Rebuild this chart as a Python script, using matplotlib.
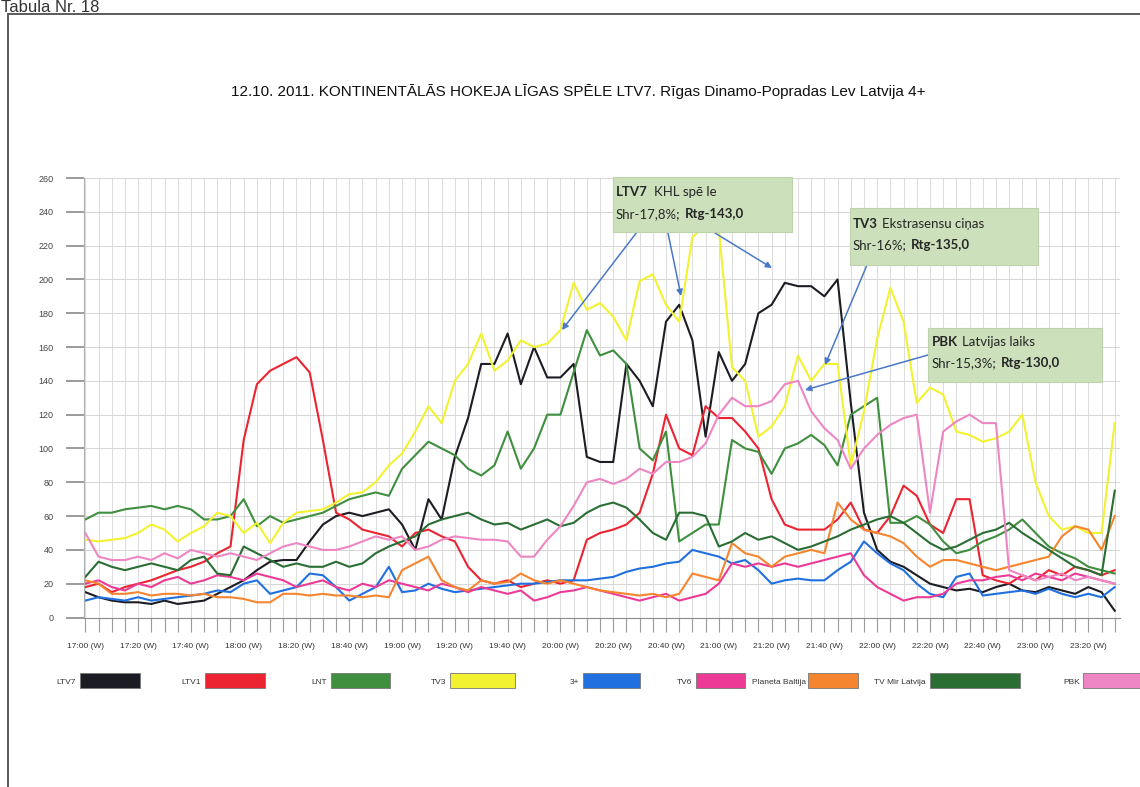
import matplotlib
matplotlib.use("Agg")
import matplotlib.pyplot as plt
from matplotlib import font_manager
from matplotlib.patches import Rectangle
import numpy as np

W, H = 1140, 787

# ---- data: 5-minute points from 17:00 (t=0) to 23:30 ----
STEP = 5
TICK_LABELS = ["17:00 (W)", "17:20 (W)", "17:40 (W)", "18:00 (W)", "18:20 (W)",
               "18:40 (W)", "19:00 (W)", "19:20 (W)", "19:40 (W)", "20:00 (W)",
               "20:20 (W)", "20:40 (W)", "21:00 (W)", "21:20 (W)", "21:40 (W)",
               "22:00 (W)", "22:20 (W)", "22:40 (W)", "23:00 (W)", "23:20 (W)"]

ltv7 = [15, 12, 10, 9, 9, 8, 10, 8, 9, 10,
        14, 18, 22, 28, 33, 34, 34, 45, 55, 60,
        62, 60, 62, 64, 55, 40, 70, 58, 95, 118,
        150, 150, 168, 138, 160, 142, 142, 150, 95, 92,
        92, 150, 140, 125, 175, 185, 164, 107, 157, 140,
        150, 180, 185, 198, 196, 196, 190, 200, 127, 62,
        40, 33, 30, 25, 20, 18, 16, 17, 15, 18,
        20, 16, 15, 18, 16, 14, 18, 15, 4]
ltv1 = [18, 20, 15, 18, 20, 22, 25, 28, 30, 33,
        38, 42, 105, 138, 146, 150, 154, 145, 105, 62,
        58, 52, 50, 48, 42, 50, 52, 48, 45, 30,
        22, 20, 22, 18, 20, 22, 20, 22, 46, 50,
        52, 55, 62, 85, 120, 100, 96, 125, 118, 118,
        110, 100, 70, 55, 52, 52, 52, 58, 68, 52,
        50, 60, 78, 72, 55, 50, 70, 70, 25, 22,
        20, 25, 22, 28, 25, 30, 28, 25, 28]
lnt = [58, 62, 62, 64, 65, 66, 64, 66, 64, 58,
       58, 60, 70, 54, 60, 56, 58, 60, 62, 66,
       70, 72, 74, 72, 88, 96, 104, 100, 96, 88,
       84, 90, 110, 88, 100, 120, 120, 145, 170, 155,
       158, 150, 100, 93, 110, 45, 50, 55, 55, 105,
       100, 98, 85, 100, 103, 108, 102, 90, 120, 125,
       130, 56, 56, 60, 55, 45, 38, 40, 45, 48,
       52, 58, 50, 42, 38, 35, 30, 28, 26]
tv3 = [46, 45, 46, 47, 50, 55, 52, 45, 50, 54,
       62, 60, 50, 56, 44, 56, 62, 63, 64, 68,
       73, 74, 80, 90, 97, 110, 125, 115, 140, 150,
       168, 146, 152, 164, 160, 162, 170, 198, 182, 186,
       178, 164, 199, 203, 185, 175, 225, 232, 230, 148,
       140, 107, 113, 125, 155, 140, 150, 150, 90, 122,
       165, 195, 175, 127, 136, 132, 110, 108, 104, 106,
       110, 120, 80, 60, 52, 54, 50, 50, 115]
tv3plus = [10, 12, 11, 10, 12, 10, 11, 12, 13, 14,
           16, 15, 20, 22, 14, 16, 18, 26, 25, 18,
           10, 14, 18, 30, 15, 16, 20, 17, 15, 16,
           17, 18, 19, 20, 20, 21, 22, 22, 22, 23,
           24, 27, 29, 30, 32, 33, 40, 38, 36, 32,
           34, 28, 20, 22, 23, 22, 22, 28, 33, 45,
           38, 32, 28, 20, 14, 12, 24, 26, 13, 14,
           15, 16, 14, 17, 14, 12, 14, 12, 18]
tv6 = [20, 22, 18, 16, 20, 18, 22, 24, 20, 22,
       25, 24, 22, 26, 24, 22, 18, 20, 22, 18,
       16, 20, 18, 22, 20, 18, 16, 20, 18, 15,
       18, 16, 14, 16, 10, 12, 15, 16, 18, 16,
       14, 12, 10, 12, 14, 10, 12, 14, 20, 32,
       30, 32, 30, 32, 30, 32, 34, 36, 38, 25,
       18, 14, 10, 12, 12, 14, 20, 22, 22, 24,
       25, 22, 26, 24, 22, 26, 24, 22, 20]
planeta = [22, 20, 14, 14, 15, 13, 14, 14, 13, 14,
           12, 12, 11, 9, 9, 14, 14, 13, 14, 13,
           13, 12, 13, 12, 28, 32, 36, 22, 18, 16,
           22, 20, 21, 26, 22, 20, 22, 20, 18, 16,
           15, 14, 13, 14, 12, 14, 26, 24, 22, 44,
           38, 36, 30, 36, 38, 40, 38, 68, 58, 52,
           50, 48, 44, 36, 30, 34, 34, 32, 30, 28,
           30, 32, 34, 36, 48, 54, 52, 40, 60]
mir = [24, 33, 30, 28, 30, 32, 30, 28, 34, 36,
       26, 25, 42, 38, 34, 30, 32, 30, 30, 33,
       30, 32, 38, 42, 45, 48, 55, 58, 60, 62,
       58, 55, 56, 52, 55, 58, 54, 56, 62, 66,
       68, 65, 58, 50, 46, 62, 62, 60, 42, 45,
       50, 46, 48, 44, 40, 42, 45, 48, 52, 55,
       58, 60, 56, 50, 44, 40, 42, 46, 50, 52,
       56, 50, 45, 40, 35, 30, 28, 25, 75]
pbk = [50, 36, 34, 34, 36, 34, 38, 35, 40, 38,
       36, 38, 36, 34, 38, 42, 44, 42, 40, 40,
       42, 45, 48, 46, 48, 40, 42, 46, 48, 47,
       46, 46, 45, 36, 36, 46, 54, 66, 80, 82,
       79, 82, 88, 85, 92, 92, 95, 103, 120, 130,
       125, 125, 128, 138, 140, 122, 112, 105, 88, 100,
       108, 114, 118, 120, 62, 110, 116, 120, 115, 115,
       28, 25, 22, 24, 26, 22, 24, 22, 20]

series = [
    ("LTV7", ltv7, "#1c1c24"),
    ("LTV1", ltv1, "#ec2432"),
    ("LNT", lnt, "#3f8f3f"),
    ("TV3", tv3, "#f2f230"),
    ("3+", tv3plus, "#2070e0"),
    ("TV6", tv6, "#ec3a96"),
    ("Planeta Baltija", planeta, "#f5852e"),
    ("TV Mir Latvija", mir, "#2a6e34"),
    ("PBK", pbk, "#ee86c4"),
]

_names = {f.name for f in font_manager.fontManager.ttflist}
NARROW = "Liberation Sans Narrow" if "Liberation Sans Narrow" in _names else "Liberation Sans"
BOXFONT = "Lato" if "Lato" in _names else "DejaVu Sans"

fig = plt.figure(figsize=(W / 100, H / 100), dpi=100)
fig.patch.set_facecolor("white")


def fx(x):
    return x / W


def fy(y):
    return 1 - y / H


# outer frame + caption
fig.add_artist(Rectangle((fx(8), -0.1), 2, fy(14) + 0.1, transform=fig.transFigure,
                         fill=False, edgecolor="#5a5a5a", lw=1.4))
fig.text(fx(1), fy(12.5), "Tabula Nr. 18", fontsize=12, family="Liberation Sans",
         color="#333333", va="baseline", ha="left")

fig.text(fx(578), fy(96), "12.10. 2011. KONTINENTĀLĀS HOKEJA LĪGAS SPĒLE LTV7. Rīgas Dinamo-Popradas Lev Latvija 4+",
         fontsize=11, family=NARROW, color="#111111", ha="center", va="baseline")

# plot area
ax = fig.add_axes([fx(84), fy(617.5), fx(1120) - fx(84), (617.5 - 178) / H])
for name, vals, col in series:
    t = np.arange(len(vals)) * STEP
    ax.plot(t, vals, color=col, lw=1.5, solid_joinstyle="round")

ax.set_xlim(-0.5, 392)
ax.set_ylim(0, 260)
ax.set_yticks(np.arange(0, 261, 20))
ax.set_xticks(np.arange(len(TICK_LABELS)) * 20)
ax.set_xticklabels(TICK_LABELS)
ax.set_xticks(np.arange(0, 392, 5), minor=True)
ax.tick_params(axis="y", length=13, width=1.2, color="#8a8a8a", pad=9,
               labelsize=6.5, labelcolor="#444444")
ax.tick_params(axis="x", which="both", length=10, width=0.8, color="#9a9a9a", pad=8,
               labelsize=6, labelcolor="#333333")
for lab in ax.get_xticklabels() + ax.get_yticklabels():
    lab.set_family(NARROW)
ax.grid(True, which="major", axis="y", color="#d6d6d6", lw=0.7)
ax.grid(True, which="both", axis="x", color="#dcdcdc", lw=0.7)
ax.set_axisbelow(True)
for s in ["top", "right"]:
    ax.spines[s].set_visible(False)
ax.spines["left"].set_color("#b0b0b0")
ax.spines["bottom"].set_color("#8a8a8a")

# ---- annotation boxes ----
renderer = fig.canvas.get_renderer()


def rich(x, y, parts, size=9.5):
    for s, w, gap in parts:
        t = fig.text(fx(x), fy(y), s, fontsize=size, fontweight=w, family=BOXFONT,
                     color="#262626", va="baseline", ha="left", zorder=6)
        x += t.get_window_extent(renderer=renderer).width + gap


def box(x0, y0, x1, y1):
    fig.add_artist(Rectangle((fx(x0), fy(y1)), (x1 - x0) / W, (y1 - y0) / H,
                             transform=fig.transFigure, facecolor="#cbe0bb",
                             edgecolor="#bcd3ab", lw=0.8, zorder=5))


def arrow(x1, y1, x2, y2):
    ax.annotate("", xy=(x2, H - y2), xytext=(x1, H - y1), xycoords="figure pixels",
                textcoords="figure pixels",
                arrowprops=dict(arrowstyle="-|>", color="#4a78c8", lw=1.1,
                                mutation_scale=9, shrinkA=0, shrinkB=0), zorder=7)


box(613, 177, 792, 232)
rich(616, 196, [("LTV7", "bold", 6), ("KHL spē le", "normal", 0)])
rich(616, 218, [("Shr-17,8%;", "normal", 4), ("Rtg-143,0", "bold", 0)])
arrow(637, 232, 562, 330)
arrow(668, 233, 681, 296)
arrow(715, 233, 772, 268)

box(850, 208, 1038, 265)
rich(853, 228, [("TV3", "bold", 4), ("Ekstrasensu ciņas", "normal", 0)])
rich(853, 249, [("Shr-16%;", "normal", 4), ("Rtg-135,0", "bold", 0)])
arrow(867, 265, 825, 365)

box(928, 328, 1102, 382)
rich(932, 346, [("PBK", "bold", 4), ("Latvijas laiks", "normal", 0)])
rich(932, 367, [("Shr-15,3%;", "normal", 4), ("Rtg-130,0", "bold", 0)])
arrow(928, 355, 805, 390)

# ---- legend row ----
legend_pos = [(76, 80, 140), (201, 205, 265), (327, 331, 390), (446, 450, 515),
              (579, 583, 640), (692, 696, 745), (806, 808, 858), (926, 930, 1020),
              (1080, 1083, 1160)]
for (name, vals, col), (tx, s0, s1) in zip(series, legend_pos):
    fig.text(fx(tx), fy(684), name, fontsize=6, family=NARROW, color="#333333",
             ha="right", va="baseline")
    fig.add_artist(Rectangle((fx(s0), fy(688)), (s1 - s0) / W, 15 / H,
                             transform=fig.transFigure, facecolor=col,
                             edgecolor="#777777", lw=0.6))

fig.savefig("out.png", dpi=100)
